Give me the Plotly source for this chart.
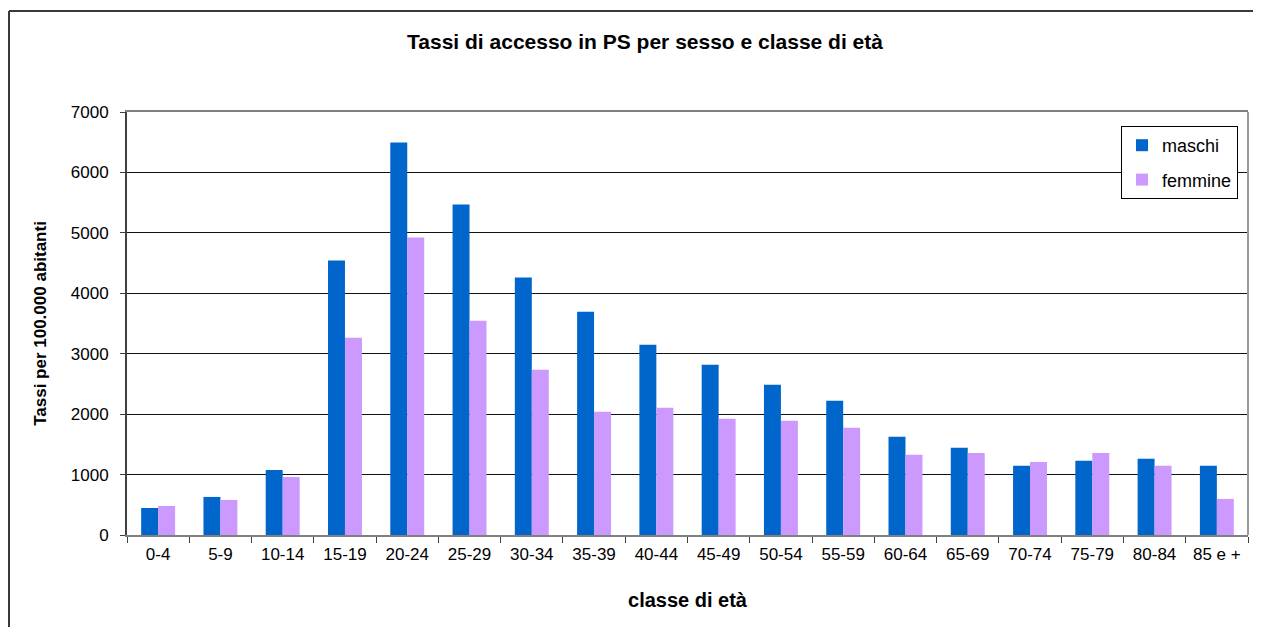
import plotly.graph_objects as go

# age classes and access rates per 100,000 inhabitants
classi = ["0-4", "5-9", "10-14", "15-19", "20-24", "25-29", "30-34", "35-39", "40-44",
          "45-49", "50-54", "55-59", "60-64", "65-69", "70-74", "75-79", "80-84", "85 e +"]
maschi = [447, 630, 1077, 4541, 6497, 5470, 4260, 3696, 3149,
          2818, 2486, 2221, 1624, 1442, 1144, 1227, 1260, 1144]
femmine = [480, 580, 961, 3265, 4923, 3547, 2735, 2039, 2105,
           1923, 1890, 1774, 1326, 1359, 1210, 1359, 1144, 597]
y_ticks = [0, 1000, 2000, 3000, 4000, 5000, 6000, 7000]

FONT = "Liberation Sans, Arial, sans-serif"

fig = go.Figure()

fig.add_trace(go.Bar(x=classi, y=maschi, name="maschi", marker=dict(color="#0066CC", line=dict(width=0)),
                     legendgroup="m"))
fig.add_trace(go.Bar(x=classi, y=femmine, name="femmine", marker=dict(color="#CC99FF", line=dict(width=0)),
                     legendgroup="f"))

# the page has an 8px body margin, so figure coords = screen coords - 8;
# the figure is kept small enough that the page does not scroll
OFF = 8
W, H = 1262 - 2 * OFF, 635 - 2 * OFF
L, T = 127 - OFF, 112 - OFF
R = W - (1248 - OFF)
B = H - (535 - OFF)
pw, ph = W - L - R, H - T - B


def px(x):
    # screen x -> paper x
    return (x - OFF - L) / pw


def py(y):
    # screen y -> paper y
    return (H - B - (y - OFF)) / ph


frame = dict(color="#3a3a3a", width=2)
shapes = [
    # outer chart frame: only its left and top edges are in the picture
    dict(type="line", xref="paper", yref="paper", x0=px(9), x1=px(9), y0=py(634), y1=py(11), line=frame),
    dict(type="line", xref="paper", yref="paper", x0=px(9), x1=px(1253), y0=py(11), y1=py(11), line=frame),
    # grey right border of the plot area
    dict(type="line", xref="paper", yref="paper", x0=1, x1=1, y0=0, y1=1,
         line=dict(color="#9a9a9a", width=2)),
]

fig.update_layout(
    width=W, height=H, autosize=False,
    margin=dict(l=L, r=R, t=T, b=B),
    paper_bgcolor="white", plot_bgcolor="white",
    font=dict(family=FONT, size=17, color="black"),
    barmode="group", bargap=0.455, bargroupgap=0,
    title=dict(text="<b>Tassi di accesso in PS per sesso e classe di età</b>",
               font=dict(family=FONT, size=21, color="black"),
               x=(645 - OFF) / W, xanchor="center", xref="container",
               y=1 - (42 - OFF) / H, yanchor="middle"),
    xaxis=dict(
        title=dict(text="<b>classe di età</b>", font=dict(family=FONT, size=20), standoff=30),
        showgrid=False, showline=True, linecolor="#808080", linewidth=2, mirror=True,
        ticks="outside", tickson="boundaries", ticklen=6, tickcolor="#404040",
        ticklabelstandoff=3,
        tickfont=dict(family=FONT, size=17),
    ),
    yaxis=dict(
        title=dict(text="<b>Tassi per 100.000 abitanti</b>", font=dict(family=FONT, size=17), standoff=20),
        range=[0, 7000], tickvals=y_ticks,
        showgrid=True, gridcolor="#111111", gridwidth=1,
        showline=True, linecolor="#404040", linewidth=2,
        ticks="outside", ticklen=5, tickcolor="#404040",
        ticklabelstandoff=8,
        tickfont=dict(family=FONT, size=17),
        zeroline=False,
    ),
    legend=dict(
        x=px(1238), xanchor="right", y=py(126), yanchor="top",
        bgcolor="white", bordercolor="black", borderwidth=1,
        font=dict(family=FONT, size=18), tracegroupgap=8,
        traceorder="grouped", itemwidth=30,
    ),
    shapes=shapes,
)

fig.write_html("out.html")
